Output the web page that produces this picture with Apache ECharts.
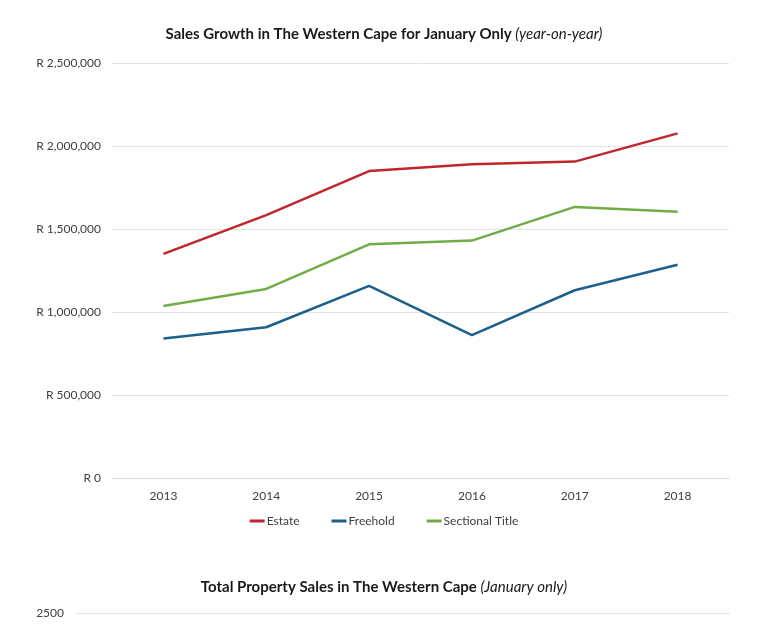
<!DOCTYPE html>
<html>
<head>
<meta charset="utf-8">
<script src="https://cdn.jsdelivr.net/npm/echarts@6/dist/echarts.min.js"></script>
<style>html,body{margin:0;padding:0;background:#fff}#c{width:768px;height:638px}</style>
</head>
<body>
<div id="c"></div>
<script>
const years = ['2013','2014','2015','2016','2017','2018'];
const estate = [1350000, 1584000, 1849000, 1890000, 1906000, 2076000];
const freehold = [841000, 908000, 1157000, 861000, 1131000, 1285000];
const sectional = [1036000, 1139000, 1408000, 1430000, 1633000, 1604000];
const seriesNames = ['Estate', 'Freehold', 'Sectional Title'];
const yTicksMax = 2500000;
const yTicksStep = 500000;
const secondYears = ['2013','2014','2015','2016','2017','2018'];
const secondMax = 2500;
const secondStep = 500;

const FONT = 'Lato, "Open Sans", sans-serif';
const colors = ['#C0272D', '#1C5F8A', '#70AD47'];

function fmtRand(v) {
  return 'R ' + v.toString().replace(/\B(?=(\d{3})+(?!\d))/g, ',');
}

const chart = echarts.init(document.getElementById('c'), null, {renderer: 'canvas'});
chart.setOption({
  animation: false,
  backgroundColor: '#ffffff',
  textStyle: {fontFamily: FONT},
  title: [
    {
      text: '{b|Sales Growth in The Western Cape for January Only }{i|(year-on-year)}',
      left: 'center', top: 22,
      textStyle: {
        rich: {
          b: {fontFamily: FONT, fontWeight: 'bold', fontSize: 15, color: '#1a1a1a'},
          i: {fontFamily: FONT, fontWeight: 'normal', fontStyle: 'italic', fontSize: 15, color: '#1a1a1a'}
        }
      }
    },
    {
      text: '{b|Total Property Sales in The Western Cape }{i|(January only)}',
      left: 'center', top: 575,
      textStyle: {
        rich: {
          b: {fontFamily: FONT, fontWeight: 'bold', fontSize: 15, color: '#1a1a1a'},
          i: {fontFamily: FONT, fontWeight: 'normal', fontStyle: 'italic', fontSize: 15, color: '#1a1a1a'}
        }
      }
    }
  ],
  legend: {
    data: seriesNames,
    top: 510,
    left: 'center',
    itemWidth: 15,
    itemHeight: 3,
    itemGap: 32,
    icon: 'rect',
    textStyle: {fontFamily: FONT, fontSize: 12, color: '#404040', padding: [0, 0, 0, -3]}
  },
  grid: [
    {left: 112, right: 39, top: 63, bottom: 160, containLabel: false},
    {left: 76, right: 38, top: 613, bottom: -600, containLabel: false}
  ],
  xAxis: [
    {
      type: 'category', gridIndex: 0, data: years, boundaryGap: true,
      axisLine: {show: true, lineStyle: {color: '#d9d9d9', width: 1}},
      axisTick: {show: false},
      axisLabel: {fontFamily: FONT, fontSize: 12, color: '#404040', margin: 12}
    },
    {
      type: 'category', gridIndex: 1, data: secondYears, show: false
    }
  ],
  yAxis: [
    {
      type: 'value', gridIndex: 0, min: 0, max: yTicksMax, interval: yTicksStep,
      axisLine: {show: false}, axisTick: {show: false},
      splitLine: {lineStyle: {color: '#e3e3e3', width: 1}},
      axisLabel: {fontFamily: FONT, fontSize: 12, color: '#404040', margin: 11, formatter: fmtRand}
    },
    {
      type: 'value', gridIndex: 1, min: 0, max: secondMax, interval: secondStep,
      axisLine: {show: false}, axisTick: {show: false},
      splitLine: {lineStyle: {color: '#e3e3e3', width: 1}},
      axisLabel: {fontFamily: FONT, fontSize: 12, color: '#404040', margin: 12, formatter: function (v) { return String(v); }}
    }
  ],
  series: [
    {name: seriesNames[0], type: 'line', data: estate, xAxisIndex: 0, yAxisIndex: 0,
     showSymbol: false, symbol: 'none', lineStyle: {width: 2.5, color: colors[0]}, itemStyle: {color: colors[0]}},
    {name: seriesNames[1], type: 'line', data: freehold, xAxisIndex: 0, yAxisIndex: 0,
     showSymbol: false, symbol: 'none', lineStyle: {width: 2.5, color: colors[1]}, itemStyle: {color: colors[1]}},
    {name: seriesNames[2], type: 'line', data: sectional, xAxisIndex: 0, yAxisIndex: 0,
     showSymbol: false, symbol: 'none', lineStyle: {width: 2.5, color: colors[2]}, itemStyle: {color: colors[2]}},
    {name: 'second', type: 'line', data: [], xAxisIndex: 1, yAxisIndex: 1}
  ]
});
</script>
</body>
</html>
